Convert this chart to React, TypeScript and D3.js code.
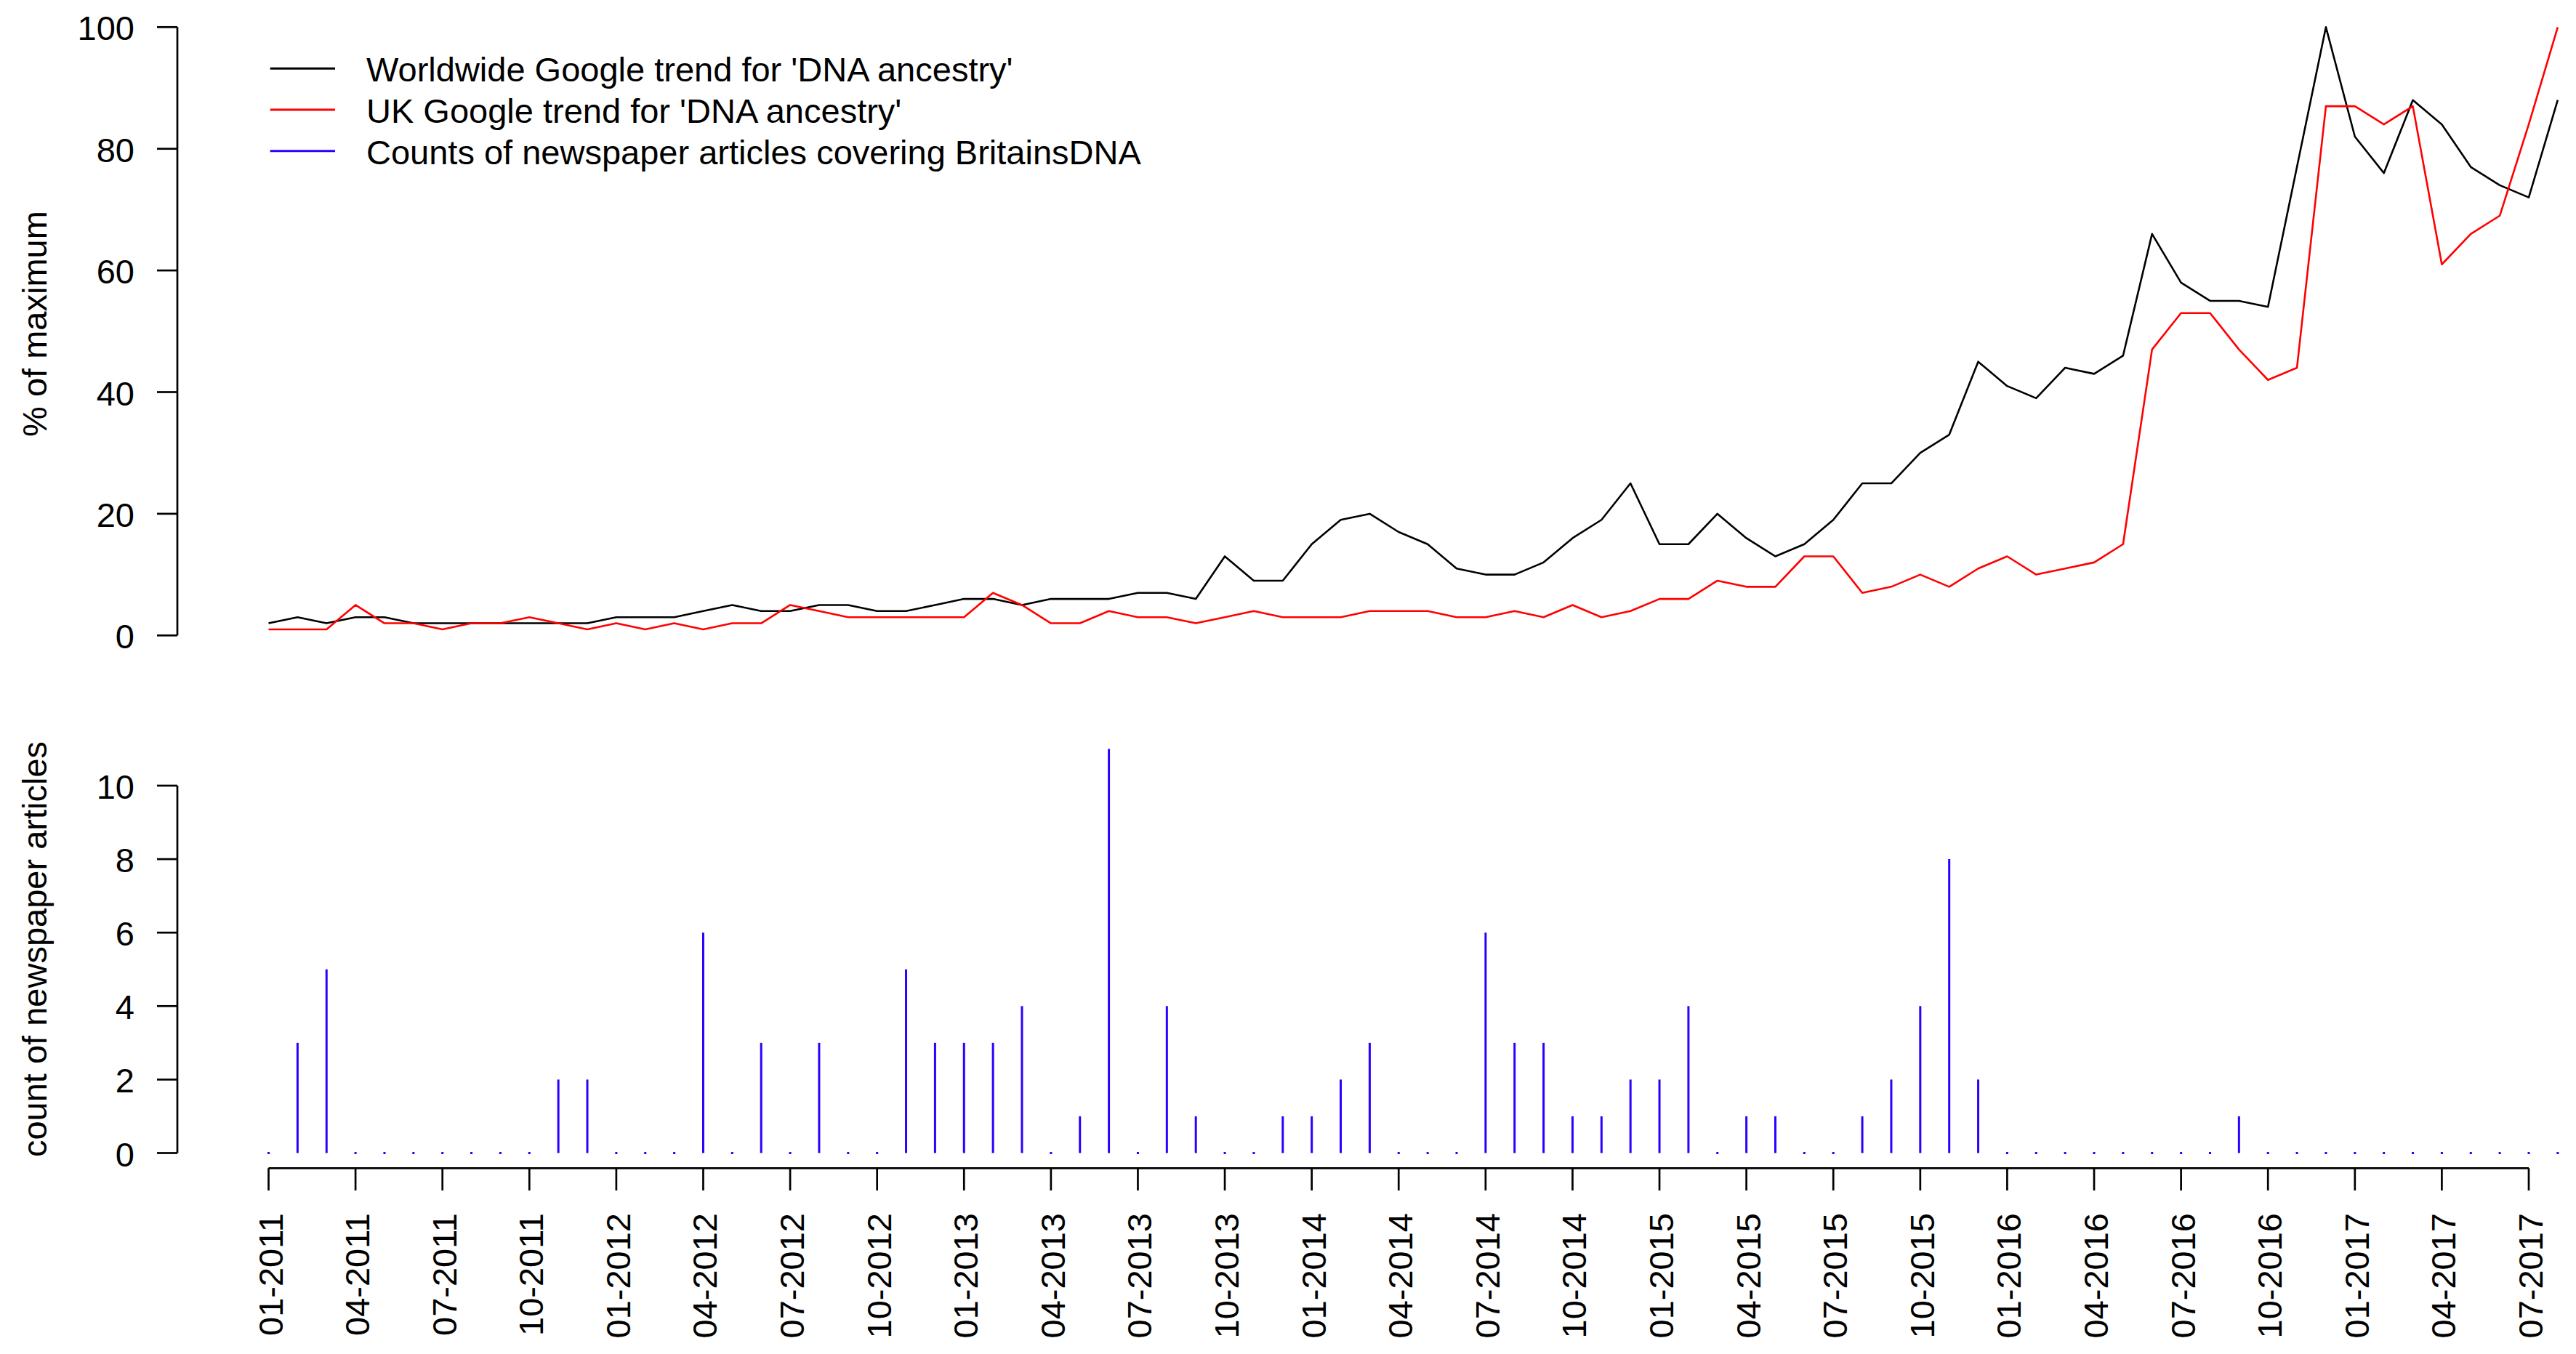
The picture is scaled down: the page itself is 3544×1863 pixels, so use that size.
import React from "react";
import * as d3 from "d3";

// Monthly data, 01-2011 .. 08-2017 (80 months)
const startYear = 2011;
const monthCount = 80;

const worldwide = [
  2, 3, 2, 3, 3, 2, 2, 2, 2, 2, 2, 2,
  3, 3, 3, 4, 5, 4, 4, 5, 5, 4, 4, 5,
  6, 6, 5, 6, 6, 6, 7, 7, 6, 13, 9, 9,
  15, 19, 20, 17, 15, 11, 10, 10, 12, 16, 19, 25,
  15, 15, 20, 16, 13, 15, 19, 25, 25, 30, 33, 45,
  41, 39, 44, 43, 46, 66, 58, 55, 55, 54, 77, 100,
  82, 76, 88, 84, 77, 74, 72, 88,
];

const uk = [
  1, 1, 1, 5, 2, 2, 1, 2, 2, 3, 2, 1,
  2, 1, 2, 1, 2, 2, 5, 4, 3, 3, 3, 3,
  3, 7, 5, 2, 2, 4, 3, 3, 2, 3, 4, 3,
  3, 3, 4, 4, 4, 3, 3, 4, 3, 5, 3, 4,
  6, 6, 9, 8, 8, 13, 13, 7, 8, 10, 8, 11,
  13, 10, 11, 12, 15, 47, 53, 53, 47, 42, 44, 87,
  87, 84, 87, 61, 66, 69, 84, 100,
];

const articles = [
  0, 3, 5, 0, 0, 0, 0, 0, 0, 0, 2, 2,
  0, 0, 0, 6, 0, 3, 0, 3, 0, 0, 5, 3,
  3, 3, 4, 0, 1, 11, 0, 4, 1, 0, 0, 1,
  1, 2, 3, 0, 0, 0, 6, 3, 3, 1, 1, 2,
  2, 4, 0, 1, 1, 0, 0, 1, 2, 4, 8, 2,
  0, 0, 0, 0, 0, 0, 0, 0, 1, 0, 0, 0,
  0, 0, 0, 0, 0, 0, 0, 0,
];

const topTicks = [0, 20, 40, 60, 80, 100];
const bottomTicks = [0, 2, 4, 6, 8, 10];
const xTickIndices = d3.range(0, 79, 3);
const xTickLabels = xTickIndices.map((i) => {
  const m = (i % 12) + 1;
  const y = startYear + Math.floor(i / 12);
  return `${String(m).padStart(2, "0")}-${y}`;
});

const legendItems = [
  { label: "Worldwide Google trend for 'DNA ancestry'", color: "#000000" },
  { label: "UK Google trend for 'DNA ancestry'", color: "#ff0000" },
  { label: "Counts of newspaper articles covering BritainsDNA", color: "#2a00ff" },
];

const W = 3544;
const H = 1863;
const FONT = "'Liberation Sans', Arial, Helvetica, sans-serif";
const FS = 47;
const AX = 2.7;

export default function App() {
  const months = d3.range(monthCount);
  const x = d3.scaleLinear().domain([0, 78]).range([369.5, 3479]);
  const yTop = d3.scaleLinear().domain([0, 100]).range([874.3, 37.3]);
  const yBot = d3.scaleLinear().domain([0, 10]).range([1586.5, 1081]);

  const lineTop = (vals: number[]) =>
    d3
      .line<number>()
      .x((_, i) => x(i))
      .y((d) => yTop(d))(vals) || "";

  const axisX = 244;
  const tickLeft = 216;
  const xAxisY = 1607.3;

  return (
    <svg
      width={W}
      height={H}
      viewBox={`0 0 ${W} ${H}`}
      style={{ position: "fixed", left: 0, top: 0, background: "#fff" }}
      fontFamily={FONT}
    >
      <rect x={0} y={0} width={W} height={H} fill="#ffffff" />

      {/* Top panel y axis */}
      <line x1={axisX} x2={axisX} y1={yTop(0)} y2={yTop(100)} stroke="#000" strokeWidth={AX} />
      {topTicks.map((t) => (
        <g key={`tt${t}`}>
          <line x1={tickLeft} x2={axisX} y1={yTop(t)} y2={yTop(t)} stroke="#000" strokeWidth={AX} />
          <text x={185} y={yTop(t) + 18} fontSize={FS} textAnchor="end" fill="#000">
            {t}
          </text>
        </g>
      ))}
      <text
        transform={`translate(64, 445.5) rotate(-90)`}
        fontSize={FS}
        textAnchor="middle"
        fill="#000"
      >
        % of maximum
      </text>

      {/* Top panel lines */}
      <path d={lineTop(worldwide)} fill="none" stroke="#000" strokeWidth={2.6} strokeLinejoin="round" />
      <path d={lineTop(uk)} fill="none" stroke="#ff0000" strokeWidth={2.6} strokeLinejoin="round" />

      {/* Legend */}
      {legendItems.map((it, k) => {
        const ly = 94.3 + k * 56.7;
        return (
          <g key={`lg${k}`}>
            <line x1={371.7} x2={461} y1={ly} y2={ly} stroke={it.color} strokeWidth={3} />
            <text x={504} y={ly + 18} fontSize={FS} fill="#000">
              {it.label}
            </text>
          </g>
        );
      })}

      {/* Bottom panel y axis */}
      <line x1={axisX} x2={axisX} y1={yBot(0)} y2={yBot(10)} stroke="#000" strokeWidth={AX} />
      {bottomTicks.map((t) => (
        <g key={`bt${t}`}>
          <line x1={tickLeft} x2={axisX} y1={yBot(t)} y2={yBot(t)} stroke="#000" strokeWidth={AX} />
          <text x={185} y={yBot(t) + 18} fontSize={FS} textAnchor="end" fill="#000">
            {t}
          </text>
        </g>
      ))}
      <text
        transform={`translate(64, 1306) rotate(-90)`}
        fontSize={FS}
        textAnchor="middle"
        fill="#000"
      >
        count of newspaper articles
      </text>

      {/* Bottom panel bars */}
      {months.map((i) => {
        const v = articles[i];
        if (v === 0) {
          return (
            <rect
              key={`b${i}`}
              x={x(i) - 1.5}
              y={yBot(0) - 1.5}
              width={3}
              height={3}
              fill="#2a00ff"
            />
          );
        }
        return (
          <line
            key={`b${i}`}
            x1={x(i)}
            x2={x(i)}
            y1={yBot(0)}
            y2={yBot(v)}
            stroke="#2a00ff"
            strokeWidth={3}
          />
        );
      })}

      {/* Bottom x axis */}
      <line x1={x(0)} x2={x(78)} y1={xAxisY} y2={xAxisY} stroke="#000" strokeWidth={AX} />
      {xTickIndices.map((i, k) => (
        <g key={`xt${i}`}>
          <line x1={x(i)} x2={x(i)} y1={xAxisY} y2={1638} stroke="#000" strokeWidth={AX} />
          <text
            transform={`translate(${x(i) + 19}, 1669) rotate(-90)`}
            fontSize={FS}
            textAnchor="end"
            fill="#000"
          >
            {xTickLabels[k]}
          </text>
        </g>
      ))}
    </svg>
  );
}
